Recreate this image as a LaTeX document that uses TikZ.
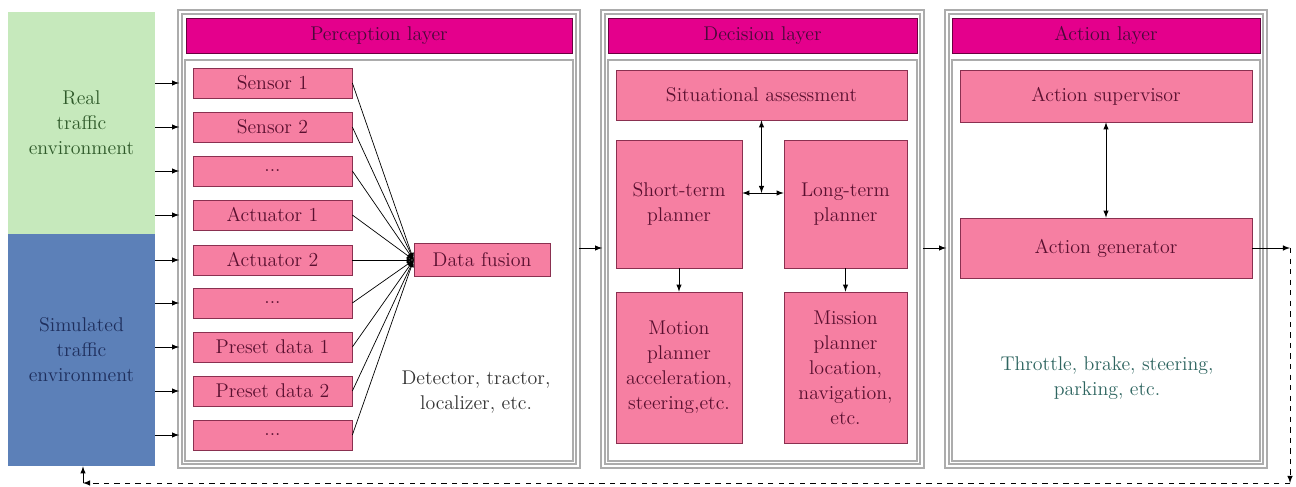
\documentclass[tikz,border=0pt]{standalone}
\definecolor{realfill}{HTML}{C6E9BC}
\definecolor{realtext}{HTML}{2F5A2A}
\definecolor{simfill}{HTML}{5C80B8}
\definecolor{simtext}{HTML}{1E2E5C}
\definecolor{pinkfill}{HTML}{F67FA2}
\definecolor{pinkline}{HTML}{8A3050}
\definecolor{pinktext}{HTML}{5A1030}
\definecolor{titlefill}{HTML}{E4008C}
\definecolor{titleline}{HTML}{6A0040}
\definecolor{titletext}{HTML}{4A0A3A}
\definecolor{acttext}{HTML}{2E6560}
\definecolor{dettext}{HTML}{333333}
\tikzset{
  pinkbox/.style={draw=pinkline, fill=pinkfill, text=pinktext, shape=rectangle, inner sep=0pt, align=center},
  titlebar/.style={draw=titleline, fill=titlefill, text=titletext, shape=rectangle, minimum height=0.7cm, inner sep=0pt},
  layer/.style={draw=gray!65, double=white, double distance=1.2pt, line width=1pt, shape=rectangle, inner sep=0pt},
  panel/.style={draw=gray!65, line width=1.4pt, fill=white, shape=rectangle, inner sep=0pt},
}
\begin{document}
\begin{tikzpicture}[thin, >=latex, font=\fontsize{11.3}{14.2}\selectfont]
\useasboundingbox (0, 0) rectangle (25.92, 9.72);
% traffic environments
\draw (1.63, 7.26) node[fill=realfill, text=realtext, minimum width=2.94cm, minimum height=4.44cm, align=center] (real) {Real\\traffic\\environment};
\draw (1.63, 2.72) node[fill=simfill, text=simtext, minimum width=2.94cm, minimum height=4.64cm, align=center] (sim) {Simulated\\traffic\\environment};
% perception layer
\draw (7.58, 4.94) node[layer, minimum width=7.96cm, minimum height=9.08cm] (perc) {};
\draw (7.58, 4.51) node[panel, minimum width=7.76cm, minimum height=8.02cm] (percpanel) {};
\draw (7.58, 9.01) node[titlebar, minimum width=7.72cm] (perctitle) {Perception layer};
\draw (5.45, 8.06) node[pinkbox, minimum width=3.18cm, minimum height=0.6cm] (s1) {Sensor 1};
\draw (5.45, 7.18) node[pinkbox, minimum width=3.18cm, minimum height=0.6cm] (s2) {Sensor 2};
\draw (5.45, 6.30) node[pinkbox, minimum width=3.18cm, minimum height=0.6cm] (s3) {...};
\draw (5.45, 5.42) node[pinkbox, minimum width=3.18cm, minimum height=0.6cm] (s4) {Actuator 1};
\draw (5.45, 4.52) node[pinkbox, minimum width=3.18cm, minimum height=0.6cm] (s5) {Actuator 2};
\draw (5.45, 3.66) node[pinkbox, minimum width=3.18cm, minimum height=0.6cm] (s6) {...};
\draw (5.45, 2.78) node[pinkbox, minimum width=3.18cm, minimum height=0.6cm] (s7) {Preset data 1};
\draw (5.45, 1.90) node[pinkbox, minimum width=3.18cm, minimum height=0.6cm] (s8) {Preset data 2};
\draw (5.45, 1.02) node[pinkbox, minimum width=3.18cm, minimum height=0.6cm] (s9) {...};
\draw (9.64, 4.52) node[pinkbox, minimum width=2.72cm, minimum height=0.66cm] (fusion) {Data fusion};
\draw (9.52, 1.88) node[text=dettext, align=center] (det) {Detector, tractor,\\localizer, etc.};
% decision layer
\draw (15.25, 4.94) node[layer, minimum width=6.38cm, minimum height=9.08cm] (dec) {};
\draw (15.25, 4.51) node[panel, minimum width=6.18cm, minimum height=8.02cm] (decpanel) {};
\draw (15.25, 9.01) node[titlebar, minimum width=6.18cm] (dectitle) {Decision layer};
\draw (15.23, 7.82) node[pinkbox, minimum width=5.82cm, minimum height=1.0cm] (sa) {Situational assessment};
\draw (13.58, 5.64) node[pinkbox, minimum width=2.52cm, minimum height=2.56cm] (st) {Short-term\\planner};
\draw (16.91, 5.64) node[pinkbox, minimum width=2.46cm, minimum height=2.56cm] (lt) {Long-term\\planner};
\draw (13.58, 2.37) node[pinkbox, minimum width=2.52cm, minimum height=3.02cm] (mo) {Motion\\planner\\acceleration,\\steering,etc.};
\draw (16.91, 2.37) node[pinkbox, minimum width=2.46cm, minimum height=3.02cm] (mi) {Mission\\planner\\location,\\navigation,\\etc.};
\coordinate (jn) at (15.23, 5.86);
% action layer
\draw (22.12, 4.94) node[layer, minimum width=6.36cm, minimum height=9.08cm] (act) {};
\draw (22.12, 4.51) node[panel, minimum width=6.16cm, minimum height=8.02cm] (actpanel) {};
\draw (22.12, 9.01) node[titlebar, minimum width=6.16cm] (acttitle) {Action layer};
\draw (22.12, 7.80) node[pinkbox, minimum width=5.84cm, minimum height=1.04cm] (as) {Action supervisor};
\draw (22.12, 4.76) node[pinkbox, minimum width=5.84cm, minimum height=1.2cm] (ag) {Action generator};
\draw (22.14, 2.15) node[text=acttext, align=center] (thr) {Throttle, brake, steering,\\parking, etc.};
% feedback corners
\coordinate (outr) at (25.80, 4.76);
\coordinate (outb) at (25.80, 0.06);
\coordinate (outl) at (1.66, 0.06);
% inputs
\draw[->] (real.east |- s1) -- (perc.west |- s1);
\draw[->] (real.east |- s2) -- (perc.west |- s2);
\draw[->] (real.east |- s3) -- (perc.west |- s3);
\draw[->] (real.east |- s4) -- (perc.west |- s4);
\draw[->] (sim.east |- s5) -- (perc.west |- s5);
\draw[->] (sim.east |- s6) -- (perc.west |- s6);
\draw[->] (sim.east |- s7) -- (perc.west |- s7);
\draw[->] (sim.east |- s8) -- (perc.west |- s8);
\draw[->] (sim.east |- s9) -- (perc.west |- s9);
% fusion
\draw[->] (s1.east) -- (fusion.west);
\draw[->] (s2.east) -- (fusion.west);
\draw[->] (s3.east) -- (fusion.west);
\draw[->] (s4.east) -- (fusion.west);
\draw[->] (s5.east) -- (fusion.west);
\draw[->] (s6.east) -- (fusion.west);
\draw[->] (s7.east) -- (fusion.west);
\draw[->] (s8.east) -- (fusion.west);
\draw[->] (s9.east) -- (fusion.west);
% between layers
\draw[->] (perc.east |- ag) -- (dec.west |- ag);
\draw[->] (dec.east |- ag) -- (act.west |- ag);
\draw[<->] (sa.south) -- (jn);
\draw[<->] (st.east |- jn) -- (lt.west |- jn);
\draw[->] (st) -- (mo);
\draw[->] (lt) -- (mi);
\draw[<->] (as) -- (ag);
% feedback
\draw[->] (ag.east) -- (outr);
\draw[->, dashed] (outr) -- (outb);
\draw[->, dashed] (outb) -- (outl);
\draw[->] (outl) -- (sim.south -| outl);
\end{tikzpicture}
\end{document}
